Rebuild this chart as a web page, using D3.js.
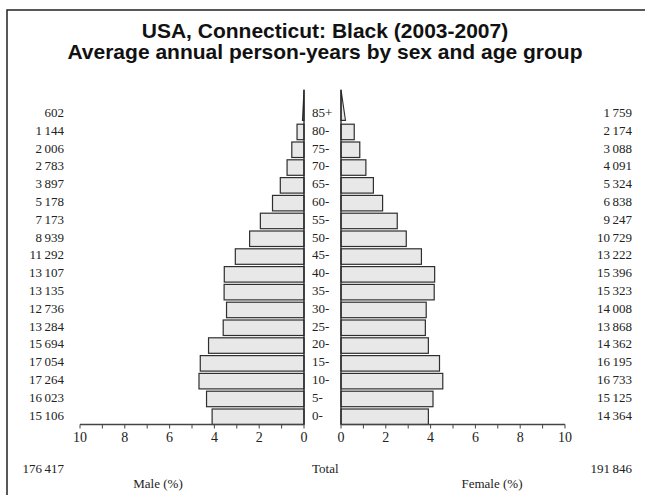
<!DOCTYPE html>
<html><head><meta charset="utf-8">
<script src="https://cdn.jsdelivr.net/npm/d3@7"></script>
<style>
body{margin:0;background:#fff;}
svg{display:block;}
</style></head>
<body>
<svg id="chart" width="645" height="495"></svg>
<script>
const titleLines = ["USA, Connecticut: Black (2003-2007)", "Average annual person-years by sex and age group"];
const ageGroups = ["0-","5-","10-","15-","20-","25-","30-","35-","40-","45-","50-","55-","60-","65-","70-","75-","80-","85+"];
const maleCounts = [15106,16023,17264,17054,15694,13284,12736,13135,13107,11292,8939,7173,5178,3897,2783,2006,1144,602];
const femaleCounts = [14364,15125,16733,16195,14362,13868,14008,15323,15396,13222,10729,9247,6838,5324,4091,3088,2174,1759];
const maleTotal = 176417;
const femaleTotal = 191846;
const tickValues = [0,2,4,6,8,10];
const minorTicks = [0,1,2,3,4,5,6,7,8,9,10];

const grand = maleTotal + femaleTotal;
const fmt = v => d3.format(",")(v).replace(/,/g, "\u2009");
const svg = d3.select("#chart");
const serif = "'Liberation Serif','Times New Roman',serif";

// frame
svg.append("path").attr("d","M7,495 L7,10 L645,10").attr("fill","none").attr("stroke","#222").attr("stroke-width",1.5);

// title
svg.append("g").selectAll("text").data(titleLines).join("text")
  .attr("x", 325).attr("y",(d,i)=>38+i*21)
  .attr("text-anchor","middle")
  .attr("font-family","'Liberation Sans',Arial,sans-serif")
  .attr("font-weight","bold").attr("font-size",21).attr("fill","#111")
  .text(d=>d);

const axisY = 424.5, step = 17.8;
const xL = d3.scaleLinear().domain([0,10]).range([304,80]);
const xR = d3.scaleLinear().domain([0,10]).range([341,565]);
const y = d3.scaleBand().domain(ageGroups).range([axisY, axisY - step*ageGroups.length]);
const bw = y.bandwidth();
const gap = 2.3;

const rows = ageGroups.map((a,i)=>({age:a, m:maleCounts[i]/grand*100, f:femaleCounts[i]/grand*100, mc:maleCounts[i], fc:femaleCounts[i]}));
const normal = rows.filter(r=>r.age!=="85+");
const last = rows.find(r=>r.age==="85+");

const barFill = "#e8e8e8", barStroke = "#2e2e2e";
const g = svg.append("g");
g.selectAll("rect.m").data(normal).join("rect")
  .attr("x", d=>xL(d.m)).attr("y", d=>y(d.age)+gap)
  .attr("width", d=>xL(0)-xL(d.m)).attr("height", bw-gap)
  .attr("fill",barFill).attr("stroke",barStroke).attr("stroke-width",1.2);
g.selectAll("rect.f").data(normal).join("rect")
  .attr("x", xR(0)).attr("y", d=>y(d.age)+gap)
  .attr("width", d=>xR(d.f)-xR(0)).attr("height", bw-gap)
  .attr("fill",barFill).attr("stroke",barStroke).attr("stroke-width",1.2);

// open-ended age group drawn as a tapering wedge
const k = 0.42;
const wBot = y(last.age)+bw-1.5, wTop = y(last.age)-0.8*step;
g.append("path").attr("d", `M${xL(0)},${wBot} L${xL(last.m*k)},${wBot} L${xL(0)},${wTop} Z`)
  .attr("fill",barFill).attr("stroke",barStroke).attr("stroke-width",1.1);
g.append("path").attr("d", `M${xR(0)},${wBot} L${xR(last.f*k)},${wBot} L${xR(0)},${wTop} Z`)
  .attr("fill",barFill).attr("stroke",barStroke).attr("stroke-width",1.1);

// center vertical lines
[xL(0), xR(0)].forEach(x=>{
  svg.append("line").attr("x1",x).attr("x2",x).attr("y1",wTop).attr("y2",axisY)
    .attr("stroke","#222").attr("stroke-width",1.3);
});

// axes
function drawAxis(scale){
  const ag = svg.append("g").attr("transform",`translate(0,${axisY})`);
  ag.append("line").attr("x1",scale(0)).attr("x2",scale(10)).attr("stroke","#444").attr("stroke-width",1.3);
  ag.selectAll("line.t").data(minorTicks).join("line").attr("class","t")
    .attr("x1",d=>scale(d)).attr("x2",d=>scale(d)).attr("y1",0).attr("y2",4)
    .attr("stroke","#444").attr("stroke-width",1);
  ag.selectAll("text").data(tickValues).join("text")
    .attr("x",d=>scale(d)).attr("y",17)
    .attr("text-anchor","middle").attr("font-family",serif).attr("font-size",14).attr("fill","#222")
    .text(d=>d);
}
drawAxis(xL); drawAxis(xR);

// labels
const lab = svg.append("g").attr("font-family",serif).attr("font-size",13).attr("fill","#222");
const rowY = d => y(d.age)+bw/2-0.5;
lab.selectAll("text.age").data(rows).join("text").attr("class","age")
  .attr("x",312).attr("y",rowY).attr("dy","0.35em").text(d=>d.age);
lab.selectAll("text.mc").data(rows).join("text").attr("class","mc")
  .attr("x",64).attr("text-anchor","end").attr("y",rowY).attr("dy","0.35em").text(d=>fmt(d.mc));
lab.selectAll("text.fc").data(rows).join("text").attr("class","fc")
  .attr("x",632).attr("text-anchor","end").attr("y",rowY).attr("dy","0.35em").text(d=>fmt(d.fc));

lab.append("text").attr("x",64).attr("y",473).attr("text-anchor","end").text(fmt(maleTotal));
lab.append("text").attr("x",632).attr("y",473).attr("text-anchor","end").text(fmt(femaleTotal));
lab.append("text").attr("x",312).attr("y",473).text("Total");
lab.append("text").attr("x",158).attr("y",488).attr("text-anchor","middle").text("Male (%)");
lab.append("text").attr("x",492).attr("y",488).attr("text-anchor","middle").text("Female (%)");
</script>
</body></html>
